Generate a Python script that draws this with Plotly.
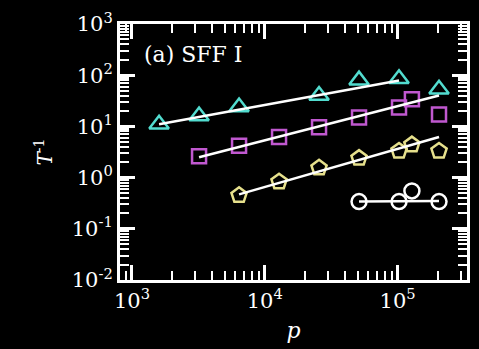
import plotly.graph_objects as go
import numpy as np

# ---- data ----
tri_x = [1600, 3200, 6400, 25600, 51200, 102400, 204800]
tri_y = [11.0, 16.0, 24.0, 40.0, 80.0, 85.0, 53.0]

sq_x = [3200, 6400, 12800, 25600, 51200, 102400, 128000, 204800]
sq_y = [2.6, 4.2, 6.2, 9.6, 15.0, 23.5, 34.0, 17.0]

pent_x = [6400, 12800, 25600, 51200, 102400, 128000, 204800]
pent_y = [0.45, 0.83, 1.55, 2.4, 3.3, 4.4, 3.3]

circ_x = [51200, 102400, 128000, 204800]
circ_y = [0.34, 0.34, 0.55, 0.34]

# fit-line endpoints
fit_tri_x = [1600, 102400]
fit_tri_y = [11.0, 79.0]
fit_sq_x = [3200, 204800]
fit_sq_y = [2.5, 40.0]
fit_pent_x = [6400, 204800]
fit_pent_y = [0.47, 6.2]
fit_circ_x = [51200, 204800]
fit_circ_y = [0.34, 0.35]

x_major = [1e3, 1e4, 1e5]
x_major_text = ["10<sup>3</sup>", "10<sup>4</sup>", "10<sup>5</sup>"]
y_major = [1e-2, 1e-1, 1e0, 1e1, 1e2, 1e3]
y_major_text = ["10<sup>-2</sup>", "10<sup>-1</sup>", "10<sup>0</sup>",
                "10<sup>1</sup>", "10<sup>2</sup>", "10<sup>3</sup>"]

CYAN = "#52dccf"
PURPLE = "#c058cf"
YELLOW = "#e6e08c"
WHITE = "#ffffff"

fig = go.Figure()

def markers(x, y, sym, size, color):
    fig.add_trace(go.Scatter(x=x, y=y, mode="markers",
                             marker=dict(symbol=sym, size=size, color=color,
                                         line=dict(width=2.5, color=color)),
                             showlegend=False))

def fit(x, y):
    fig.add_trace(go.Scatter(x=x, y=y, mode="lines",
                             line=dict(color=WHITE, width=2.5),
                             showlegend=False))

markers(tri_x, tri_y, "triangle-up-open", 17, CYAN)
markers(sq_x, sq_y, "square-open", 14, PURPLE)
markers(pent_x, pent_y, "pentagon-open", 16, YELLOW)
markers(circ_x, circ_y, "circle-open", 15, WHITE)
fit(fit_tri_x, fit_tri_y)
fit(fit_sq_x, fit_sq_y)
fit(fit_pent_x, fit_pent_y)
fit(fit_circ_x, fit_circ_y)

def minors(lo, hi):
    vals = []
    for k in range(lo, hi + 1):
        for m in range(2, 10):
            vals.append(m * 10.0 ** k)
    return vals

font_serif = "DejaVu Serif"
axis_common = dict(
    type="log", showgrid=False, zeroline=False,
    showline=True, linecolor=WHITE, linewidth=3, mirror="allticks",
    ticks="inside", ticklen=15, tickwidth=2.5, tickcolor=WHITE,
    tickfont=dict(family=font_serif, size=21, color=WHITE),
)

fig.update_xaxes(
    **axis_common,
    range=[2.91, 5.522],
    tickmode="array", tickvals=x_major, ticktext=x_major_text,
    minor=dict(tickvals=minors(2, 5), ticks="inside", ticklen=9,
               tickwidth=2, tickcolor=WHITE, showgrid=False),
    title=dict(text="<i>p</i>", font=dict(family=font_serif, size=22, color=WHITE),
               standoff=11),
)
fig.update_yaxes(
    **axis_common,
    range=[-2, 3],
    tickmode="array", tickvals=y_major, ticktext=y_major_text,
    minor=dict(tickvals=minors(-2, 2), ticks="inside", ticklen=9,
               tickwidth=2, tickcolor=WHITE, showgrid=False),
    title=dict(text="<i>T</i><sup>-1</sup>", font=dict(family=font_serif, size=20, color=WHITE),
               standoff=14),
)

fig.add_annotation(text="(a) SFF I", xref="paper", yref="paper",
                   x=0.064, y=0.88, xanchor="left", yanchor="middle",
                   showarrow=False,
                   font=dict(family=font_serif, size=22, color=WHITE))

fig.update_layout(
    width=479, height=349,
    margin=dict(l=120, r=9, t=22, b=67),
    paper_bgcolor="black", plot_bgcolor="black",
)

fig.write_html("out.html")
